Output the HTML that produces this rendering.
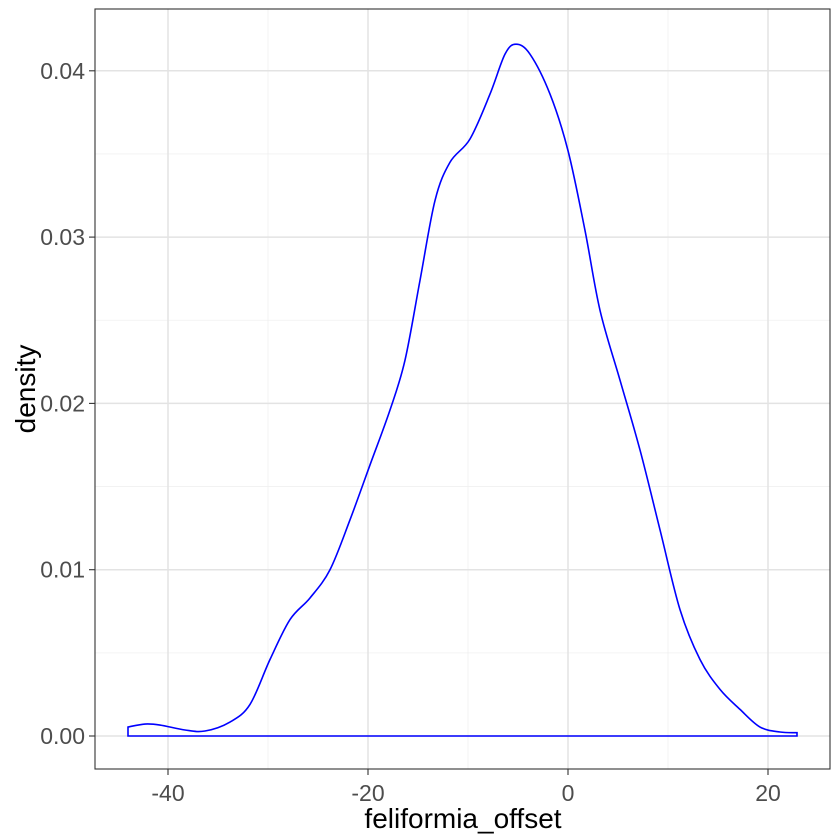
<!DOCTYPE html>
<html><head><meta charset="utf-8"><style>
html,body{margin:0;padding:0;background:#fff}
svg{display:block;font-family:"Liberation Sans",Arial,sans-serif}
</style></head><body>
<svg id="chart" width="840" height="840" viewBox="0 0 840 840">
<rect x="95" y="9" width="735" height="760" fill="#fff"/>
<g id="grid"></g>
<path id="curve" fill="none" stroke="#0000ff" stroke-width="1.6"/>
<rect x="95" y="9" width="735" height="760" fill="none" stroke="#333" stroke-width="1.1"/>
<g id="axes"></g>
<text x="463" y="828" font-size="28" text-anchor="middle" fill="#000">feliformia_offset</text>
<text transform="translate(35,389) rotate(-90)" font-size="28" text-anchor="middle" fill="#000">density</text>
</svg>
<script>
const xVals = [-44,-42.3,-40.8,-38.3,-36.3,-33.8,-31.8,-29.8,-27.8,-25.8,-23.8,-21.8,-19.8,-17.8,-16.3,-14.8,-13.3,-11.8,-9.8,-7.8,-6.3,-5.2,-3.8,-1.8,0,1.7,3.2,5.2,7.2,9.2,11.2,13.2,15.2,17.2,19.2,21.2,22.9];
const densities = [0.00054,0.00072,0.00066,0.00036,0.0003,0.00084,0.0019,0.0046,0.007,0.0083,0.010,0.013,0.0163,0.0196,0.0226,0.0274,0.0322,0.0345,0.0359,0.0386,0.041,0.0416,0.041,0.0386,0.0352,0.0304,0.0256,0.0214,0.0172,0.0124,0.0076,0.0046,0.0028,0.0016,0.00054,0.00024,0.0002];
const xTicks = [-40,-20,0,20];
const xMinor = [-30,-10,10];
const yTicks = [0,0.01,0.02,0.03,0.04];
const yTickLabels = ["0.00","0.01","0.02","0.03","0.04"];
const yMinor = [0.005,0.015,0.025,0.035];

const X = v => 568 + v*10;
const Y = v => 736 - v*16630;
const NS = "http://www.w3.org/2000/svg";
const grid = document.getElementById('grid');
const axes = document.getElementById('axes');
function line(parent,x1,y1,x2,y2,stroke,w,name){
  const l=document.createElementNS(NS,'line');
  l.setAttribute('x1',x1);l.setAttribute('y1',y1);l.setAttribute('x2',x2);l.setAttribute('y2',y2);
  l.setAttribute('stroke',stroke);l.setAttribute('stroke-width',w);
  
  
  parent.appendChild(l);
}
function text(x,y,s,anchor,name){
  const t=document.createElementNS(NS,'text');
  t.setAttribute('x',x);t.setAttribute('y',y);t.setAttribute('font-size','23');
  t.setAttribute('fill','#4d4d4d');t.setAttribute('text-anchor',anchor);
  t.textContent=s;
  
  
  axes.appendChild(t);
}
xMinor.forEach(v=>line(grid,X(v),9,X(v),769,'#f0f0f0',0.8,'x-minor-gridline'));
yMinor.forEach(v=>line(grid,95,Y(v),830,Y(v),'#f0f0f0',0.8,'y-minor-gridline'));
xTicks.forEach(v=>{
  line(grid,X(v),9,X(v),769,'#e3e3e3',1.5,'x-major-gridline');
  line(axes,X(v),769,X(v),775,'#333',1.1,'x-tick');
  text(X(v),801,String(v),'middle','x-tick-label');
});
yTicks.forEach((v,i)=>{
  line(grid,95,Y(v),830,Y(v),'#e3e3e3',1.5,'y-major-gridline');
  line(axes,89,Y(v),95,Y(v),'#333',1.1,'y-tick');
  text(85,Y(v)+8,yTickLabels[i],'end','y-tick-label');
});
const pts = xVals.map((v,i)=>[X(v),Y(densities[i])]);
let d = `M${X(xVals[0])},${Y(0)} L${pts[0][0]},${pts[0][1]}`;
for(let i=0;i<pts.length-1;i++){
  const p0=pts[Math.max(0,i-1)],p1=pts[i],p2=pts[i+1],p3=pts[Math.min(pts.length-1,i+2)];
  const c1=[p1[0]+(p2[0]-p0[0])/6,p1[1]+(p2[1]-p0[1])/6];
  const c2=[p2[0]-(p3[0]-p1[0])/6,p2[1]-(p3[1]-p1[1])/6];
  d+=` C${c1[0]},${c1[1]} ${c2[0]},${c2[1]} ${p2[0]},${p2[1]}`;
}
d+=` L${X(xVals[xVals.length-1])},${Y(0)} Z`;
document.getElementById('curve').setAttribute('d',d);
</script>
</body></html>
